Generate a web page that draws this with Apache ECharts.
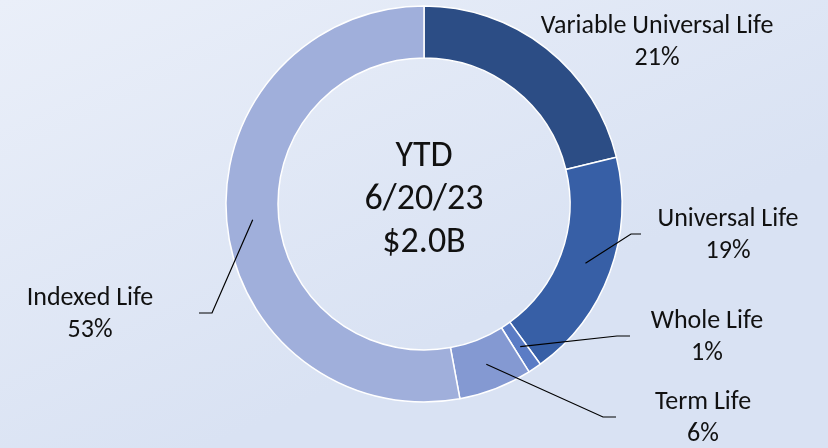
<!DOCTYPE html>
<html lang="en">
<head>
<meta charset="UTF-8">
<title>YTD Life Sales Mix</title>
<script src="https://cdn.jsdelivr.net/npm/echarts@6/dist/echarts.min.js"></script>
<style>
    html, body { margin: 0; padding: 0; }
    #main { width: 828px; height: 448px; }
</style>
</head>
<body>
<div id="main"></div>
<script type="text/javascript">
var categories = ['Variable Universal Life', 'Universal Life', 'Whole Life', 'Term Life', 'Indexed Life'];
var shares = [21.2, 18.8, 1.1, 6.0, 52.9];
var centerLines = ['YTD', '6/20/23', '$2.0B'];

var colors = ['#2c4d85', '#375fa6', '#5b7cc5', '#8499d2', '#a0afdb'];
var fontFamily = 'Carlito, Lato, sans-serif';

// donut geometry and label placement (pixels)
var cx = 424, cy = 204, rIn = 146, rOut = 198;
var labelAt = [[657, 42], [728, 235], [707, 337], [703, 418], [90, 314]];
var lineEnd = [null, [631, 641], [617, 630], [603, 616], [212, 199]]; // bend x, end x

var total = shares.reduce(function (a, b) { return a + b; }, 0);

// point in the middle of the ring for slice i
function ringMid(i) {
    var before = 0;
    for (var j = 0; j < i; j++) before += shares[j];
    var a = (90 - (before + shares[i] / 2) / total * 360) * Math.PI / 180;
    var r = (rIn + rOut) / 2;
    return [cx + r * Math.cos(a), cy - r * Math.sin(a)];
}

var pieData = categories.map(function (name, i) {
    return { name: name, value: shares[i], itemStyle: { color: colors[i] } };
});
// same slices again, invisible, only to carry labels and leader lines above the ring
var labelData = categories.map(function (name, i) {
    var d = { name: name, value: shares[i] };
    if (!lineEnd[i]) d.labelLine = { show: false };
    return d;
});

var chart = echarts.init(document.getElementById('main'));
chart.setOption({
    animation: false,
    backgroundColor: {
        type: 'linear', x: 0, y: 0, x2: 0.25, y2: 1,
        colorStops: [
            { offset: 0, color: '#eaeff9' },
            { offset: 1, color: '#d9e2f3' }
        ]
    },
    graphic: [{
        type: 'text',
        x: cx,
        y: 200,
        style: {
            text: centerLines.join('\n'),
            align: 'center',
            verticalAlign: 'middle',
            fontFamily: fontFamily,
            fontSize: 36,
            lineHeight: 43,
            fill: '#111'
        }
    }],
    series: [{
        type: 'pie',
        center: [cx, cy],
        radius: [rIn, rOut],
        startAngle: 90,
        clockwise: true,
        silent: true,
        itemStyle: { borderColor: '#ffffff', borderWidth: 1.5 },
        label: { show: false },
        labelLine: { show: false },
        data: pieData
    }, {
        type: 'pie',
        z: 5,
        center: [cx, cy],
        radius: [rIn, rOut],
        startAngle: 90,
        clockwise: true,
        silent: true,
        percentPrecision: 0,
        avoidLabelOverlap: false,
        itemStyle: { color: 'rgba(0,0,0,0)', borderWidth: 0 },
        label: {
            show: true,
            position: 'outside',
            formatter: '{b}\n{d}%',
            fontFamily: fontFamily,
            fontSize: 26,
            lineHeight: 32,
            color: '#111'
        },
        labelLine: {
            show: true,
            smooth: false,
            lineStyle: { color: '#000', width: 1.2 }
        },
        labelLayout: function (p) {
            var i = p.dataIndex;
            var out = {
                x: labelAt[i][0],
                y: labelAt[i][1],
                align: 'center',
                verticalAlign: 'middle'
            };
            if (lineEnd[i]) {
                var y = labelAt[i][1] - 1;
                out.labelLinePoints = [ringMid(i), [lineEnd[i][0], y], [lineEnd[i][1], y]];
            }
            return out;
        },
        data: labelData
    }]
});
</script>
</body>
</html>
